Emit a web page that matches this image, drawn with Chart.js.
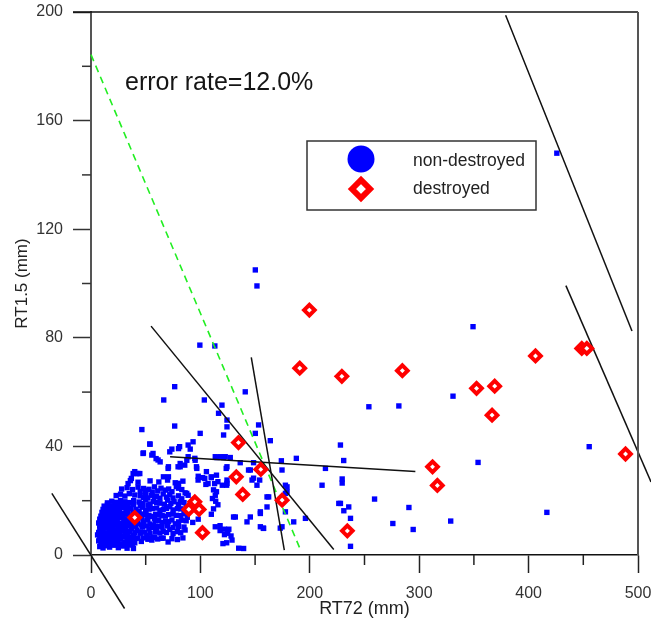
<!DOCTYPE html>
<html>
<head>
<meta charset="utf-8">
<script src="https://cdn.jsdelivr.net/npm/chart.js@4.4.1/dist/chart.umd.min.js"></script>
<style>
html,body{margin:0;padding:0;background:#fff;}
#wrap{width:651px;height:620px;position:relative;}
</style>
</head>
<body>
<div id="wrap"><canvas id="c" width="651" height="620"></canvas></div>
<script>
// ---------- data ----------
const xTickLabels = [0, 100, 200, 300, 400, 500];
const yTickLabels = [0, 40, 80, 120, 160, 200];
const xTitle = 'RT72 (mm)';
const yTitle = 'RT1.5 (mm)';
const errorText = 'error rate=12.0%';
const legendLabels = ['non-destroyed', 'destroyed'];

// non-destroyed observations [RT72, RT1.5]
const nonDestroyed = [
  [150.2,105],[151.7,99.1],[425.8,148],[349.2,84.1],
  [99.5,77.3],[113.2,77],[76.5,62],[66.5,57.1],[103.6,57.1],[141,60.1],[119.7,55.2],[116.6,52.2],
  [46.5,46.2],[76.5,47.5],[124.3,49.7],[124.3,47.2],[121.2,44.2],[153.2,47.9],[150.2,44.8],[163.9,42.1],[99.8,44.8],
  [254,54.6],[281.4,54.9],[330.9,58.5],[455.4,39.9],[353.8,34.1],[228,40.5],[231,34.8],[229.6,26.5],[229.6,28],
  [228,19],[231.1,16.3],[235.6,17.7],[237.2,13.5],[237.2,3.2],[259.2,20.6],[290.6,17.5],[275.9,11.6],[294.5,9.4],[328.8,12.5],[416.7,15.7],
  [53.7,40.9],[47.6,37.4],[56.7,37.4],[61.3,35],[72,38],[81,39.9],[88.8,40.5],[93.3,41.7],[70.5,31.9],[79.6,32.5],
  [88.8,36.2],[94.9,35.6],[85.7,33.1],[96.4,32.5],[105.5,30.7],[114.7,29.4],[104,28.2],[97.9,27.6],[107,26.3],[113,26.3],
  [114.7,23.3],[40,30.7],[36.9,28.2],[43,30],[33.9,26.3],
  [54,40.8],[73.9,39],[80,39.2],[90.7,39],[47.9,37.6],[55.6,36.8],[59.5,35.5],[63.2,34.3],[70.8,32.5],[81.5,33.7],
  [81.5,32.5],[87.6,34.9],[95.2,34.9],[113.6,36.2],[118.5,36.2],[122.7,36.2],[124.3,32.5],[38.5,30],[41.5,30],[44.6,30],
  [66.2,28.8],[70.8,28.8],[80,26.4],[80,24.6],[96.7,31.9],[98,29],[102,28.5],[105,26],[110,28.5],[112,24],
  [88.8,22],[81.5,19.6],[113.6,22],[124.3,27.6],[124.3,26.4],[144,31.3],[151.7,25.7],[148.6,28.3],[160.9,21.4],[177.7,25.7],
  [177.7,22.7],[177.7,15.9],[154.8,15.3],[154.8,10.4],[131.9,14],[142.6,12.2],[118,9],[122,7.5],[126,9.5],[128,7],
  [124,4.5],[135,2.5],[157.5,9.9],[173,9.9],[185.3,12.2],[196,13.5],[87.5,22.7],[64.6,6.2],[55.6,5.5],[38.8,2.4],
  [115.1,35.9],[121.2,35.9],[127.3,35.9],[136.4,34],[148.6,34],[174,34.7],[187.7,35.6],[214.3,31.9],[110,28.8],[116,27],
  [120,25.7],[124,25.7],[123.6,31.9],[145.6,31.3],[147.2,27.6],[154.2,27.6],[174.6,31.3],[179.2,25.1],[179.2,23.3],[162.4,21.4],
  [211.2,25.7],[226.5,19],[174.6,10.4],[157.8,9.8],[154.8,15.9],[145.6,14],[130.3,14],[160.9,17.7],[139.5,2.4],[120.6,4.2],
  [113.6,10.4],[118,10.8],[122,9.5],[125,8],[128.9,5.5],[110,15],[112,17],[116,18.5],[111,20.8],[114,19.8],
  [55.2,6.1],[70.5,4.8],
  // dense core
  [8,3.1],[11,2.6],[14,3.4],[17,2.9],[21,3.6],[25,2.7],[29,3.3],[33,2.5],[38,3.8],
  [9,4.1],[12.5,3.8],[16,4.3],[20,3.9],[24,4.4],[28,4.0],[32,4.2],[36,3.7],[40,4.5],
  [7,5.2],[10,4.8],[13,5.6],[16,4.6],[19,5.3],[23,4.9],[27,5.8],[31,4.7],[36,5.4],[41,6.1],[46,5.0],
  [8,6.1],[11,6.4],[14.5,5.9],[18,6.5],[21.5,6.0],[25,6.3],[29,6.6],[33,6.0],[37,6.4],[43,6.2],
  [6,7.4],[9,7.0],[12,7.8],[15,6.8],[18,7.5],[22,7.1],[26,7.9],[30,6.9],[34,7.6],[39,7.2],[45,8.0],[51,7.3],[58,6.6],
  [7,8.3],[10,8.6],[13,8.2],[16.5,8.7],[20,8.4],[23.5,8.1],[27,8.8],[31,8.3],[35,8.6],[40,8.2],[45,8.5],
  [8,9.6],[11,9.2],[14,10.1],[17,9.4],[20,9.9],[24,9.3],[28,10.2],[32,9.5],[37,9.8],[42,9.1],[47,10.3],[53,9.6],[60,9.0],[66,8.7],[72,9.4],[79,8.6],[86,9.2],
  [8,10.9],[11.5,10.6],[15,11.1],[18.5,10.7],[22,11.0],[25.5,10.5],[29,11.2],[33,10.8],[37,11.0],[41,10.6],[46,11.1],[51,10.7],[57,10.9],
  [7,11.8],[10,12.4],[13,11.6],[16,12.2],[19,11.9],[22,12.6],[26,11.7],[30,12.3],[34,11.8],[38,12.5],[43,11.6],[48,12.1],[54,11.4],[59,12.6],[65,11.9],[71,12.3],[77,11.5],[83,12.8],
  [8,13.2],[11,13.5],[14,13.0],[17,13.6],[20.5,13.1],[24,13.4],[27.5,13.7],[31,13.0],[35,13.5],[40,13.2],[46,13.6],[52,13.1],[58,13.4],
  [9,14.3],[12,14.8],[15,14.1],[18,14.9],[21,14.4],[25,14.7],[29,14.2],[33,15.0],[37,14.4],[44,14.6],[50,14.9],[56,14.2],[62,14.7],[68,14.3],[75,15.1],[82,14.5],[88,13.9],[98,13.2],
  [10,15.7],[13,16.0],[16,15.5],[19,16.1],[22.5,15.6],[26,15.9],[30,15.4],[34,16.2],[39,15.7],[44,16.0],[50,15.6],
  [11,16.8],[14,17.3],[17,16.6],[20,17.4],[24,16.9],[28,17.5],[32,16.7],[36,17.2],[41,16.8],[47,17.6],[53,16.9],[60,17.3],[66,16.7],[72,17.8],[79,17.1],
  [12,18.0],[15,18.5],[18.5,18.1],[22,18.6],[26,18.2],[30,18.4],[34,17.9],[39,18.6],[45,18.1],[52,18.4],
  [15,19.2],[19,19.8],[23,19.4],[27,20.1],[31,19.6],[35,19.3],[39,20.0],[44,19.5],[50,20.3],[57,19.7],[63,19.1],[70,20.2],[76,19.6],
  [23,21.9],[27,22.4],[31,21.7],[35,22.6],[40,22.1],[45,21.8],[50,22.7],[55,22.0],[60,21.6],[66,22.5],[72,22.2],[80,21.8],[86,22.9],
  [28,24.3],[33,24.8],[38,24.1],[43,25.0],[48,24.5],[53,24.2],[58,25.1],[64,24.6],[71,24.3],[78,25.2],
  [36,27.4],[43,26.8],[54,27.3],[62,26.9],[70,27.6],[77,26.6],[84,27.2],
  // mid-blob fill
  [48,6.3],[52,5.8],[57,6.4],[61,5.9],[66,6.2],[74,6.0],[79,5.7],[84,6.3],
  [49,8.4],[54,8.0],[59,8.5],[63,8.1],[69,8.3],[75,7.9],[82,8.2],
  [56,10.2],[61,10.6],[65,10.3],[70,10.7],[75,10.1],[80,10.5],[85,10.3],
  [51,12.9],[62,12.7],[68,12.4],[74,12.9],[80,12.2],[87,12.6],[93,12.0],
  [47,15.1],[53,14.6],[59,15.0],[65,14.5],[71,14.9],[78,14.6],[85,15.2],
  [50,16.5],[56,17.1],[63,16.4],[69,17.2],[75,16.6],[82,17.0],[87,17.5],
  [47,19.0],[54,18.8],[60,19.4],[67,18.7],[73,19.0],[80,18.6],[85,19.3],
  [48,21.2],[52,21.0],[58,21.5],[63,20.9],[69,21.3],[75,21.0],[83,20.7],
  [45,23.4],[50,23.8],[56,23.1],[61,23.6],[68,23.9],[74,23.3],[83,24.1]
];

// destroyed observations [RT72, RT1.5]
const destroyed = [
  [199.6,90.2],[190.8,68.8],[229.3,65.8],[284.6,67.9],[406.3,73.3],[448.6,76.1],[453.2,76.1],
  [352.4,61.4],[369,62.2],[366.6,51.5],[312.2,32.5],[316.6,25.6],[488.6,37.2],[234.3,8.9],
  [134.8,41.4],[155.2,31.5],[132.8,28.8],[138.7,22.3],[174.7,20.2],
  [94.9,19.6],[89.4,16.8],[98.8,16.8],[101.9,8.2],[40,13.8]
];

// straight boundary segments, endpoints [RT72, RT1.5]
const boundaryA = [[379,198.8],[494.5,82.5]];
const boundaryB = [[434.1,99.2],[511.9,26.9]];
const boundaryC = [[54.9,84.3],[221.9,2.0]];
const boundaryD = [[146.5,72.8],[176.7,1.8]];
const boundaryE = [[72.3,36.2],[296.5,30.8]];
const boundaryF = [[-35.8,22.7],[30.7,-19.7]];
const dashedBoundary = [[0,184.3],[191.2,2.2]];

// ---------- chart ----------
const toXY = a => a.map(p => ({x: p[0], y: p[1]}));
const FONT = '"Liberation Sans", Arial, sans-serif';

function lineDs(pts, opts) {
  return Object.assign({
    data: toXY(pts), showLine: true, pointRadius: 0, borderColor: '#111', borderWidth: 1.5,
    fill: false, clip: false, tension: 0
  }, opts || {});
}

const overlay = {
  id: 'overlay',
  afterDraw(chart) {
    const ctx = chart.ctx;
    const {left, right, top, bottom} = chart.chartArea;
    const xs = chart.scales.x, ys = chart.scales.y;
    const seg = (x1, y1, x2, y2) => { ctx.beginPath(); ctx.moveTo(x1, y1); ctx.lineTo(x2, y2); ctx.stroke(); };
    ctx.save();
    // top frame
    ctx.strokeStyle = '#111'; ctx.lineWidth = 1.5;
    seg(left - 18, top, right, top);
    // right frame
    ctx.strokeStyle = '#555'; ctx.lineWidth = 2;
    seg(right, top, right, bottom);
    // minor ticks
    ctx.strokeStyle = '#222'; ctx.lineWidth = 1.5;
    xs.ticks.forEach(t => { if (!xTickLabels.includes(t.value)) { const p = xs.getPixelForValue(t.value); seg(p, bottom, p, bottom + 10); } });
    ctx.strokeStyle = '#333';
    ys.ticks.forEach(t => { if (!yTickLabels.includes(t.value)) { const p = ys.getPixelForValue(t.value); seg(left - 9, p, left, p); } });
    // annotation text
    ctx.fillStyle = '#151515';
    ctx.font = '25px ' + FONT;
    ctx.textBaseline = 'alphabetic';
    ctx.textAlign = 'left';
    ctx.fillText(errorText, 125, 90);
    // legend box
    ctx.strokeStyle = '#333'; ctx.lineWidth = 1.5;
    ctx.strokeRect(307, 141, 229, 69);
    ctx.fillStyle = '#0000ff';
    ctx.beginPath(); ctx.arc(361, 159, 13.5, 0, Math.PI * 2); ctx.fill();
    ctx.beginPath();
    ctx.moveTo(361 - 9, 189); ctx.lineTo(361, 189 - 9); ctx.lineTo(361 + 9, 189); ctx.lineTo(361, 189 + 9); ctx.closePath();
    ctx.fillStyle = '#fff'; ctx.fill();
    ctx.strokeStyle = '#ff0000'; ctx.lineWidth = 6; ctx.stroke();
    ctx.fillStyle = '#222';
    ctx.font = '17.5px ' + FONT;
    ctx.fillText(legendLabels[0], 413, 165.5);
    ctx.fillText(legendLabels[1], 413, 194);
    ctx.restore();
  }
};

new Chart(document.getElementById('c'), {
  type: 'scatter',
  data: {
    datasets: [
      { label: legendLabels[1], data: toXY(destroyed), pointStyle: 'rectRot', pointRadius: 5.3,
        backgroundColor: '#ffffff', borderColor: '#ff0000', borderWidth: 4 },
      lineDs(boundaryA), lineDs(boundaryB), lineDs(boundaryC), lineDs(boundaryD), lineDs(boundaryE), lineDs(boundaryF),
      lineDs(dashedBoundary, {borderColor: '#22ee22', borderDash: [7, 5], borderWidth: 1.6}),
      { label: legendLabels[0], data: toXY(nonDestroyed), pointStyle: 'rect', pointRadius: 3.8,
        backgroundColor: '#0000ff', borderWidth: 0 }
    ]
  },
  options: {
    responsive: false,
    animation: false,
    devicePixelRatio: 1,
    layout: { padding: { left: 0, top: 12, right: 13, bottom: 0 } },
    plugins: { legend: { display: false }, tooltip: { enabled: false } },
    scales: {
      x: {
        type: 'linear', min: 0, max: 500,
        afterFit: s => { s.height = 65; s.paddingLeft = 0; s.paddingRight = 0; },
        border: { color: '#111', width: 1.5 },
        grid: { drawOnChartArea: false, drawTicks: true, tickLength: 18, tickWidth: 1.5,
          tickColor: c => (c.tick && xTickLabels.includes(c.tick.value)) ? '#222' : 'rgba(0,0,0,0)' },
        ticks: { stepSize: 50, autoSkip: false, maxRotation: 0, padding: 11, color: '#333',
          font: { family: FONT, size: 16 },
          callback: v => xTickLabels.includes(v) ? String(v) : '' },
        title: { display: true, text: xTitle, color: '#222', font: { family: FONT, size: 18 }, padding: { top: 0, bottom: 0 } }
      },
      y: {
        type: 'linear', min: 0, max: 200,
        afterFit: s => { s.width = 91; s.paddingTop = 0; s.paddingBottom = 0; },
        border: { color: '#555', width: 2 },
        grid: { drawOnChartArea: false, drawTicks: true, tickLength: 18, tickWidth: 1.5,
          tickColor: c => (c.tick && yTickLabels.includes(c.tick.value)) ? '#333' : 'rgba(0,0,0,0)' },
        ticks: { stepSize: 20, autoSkip: false, padding: 10, color: '#333',
          font: { family: FONT, size: 16 },
          callback: v => yTickLabels.includes(v) ? String(v) : '' },
        title: { display: true, text: yTitle, color: '#222', font: { family: FONT, size: 17 }, padding: { top: 12, bottom: 0 } }
      }
    }
  },
  plugins: [overlay]
});
</script>
</body>
</html>
